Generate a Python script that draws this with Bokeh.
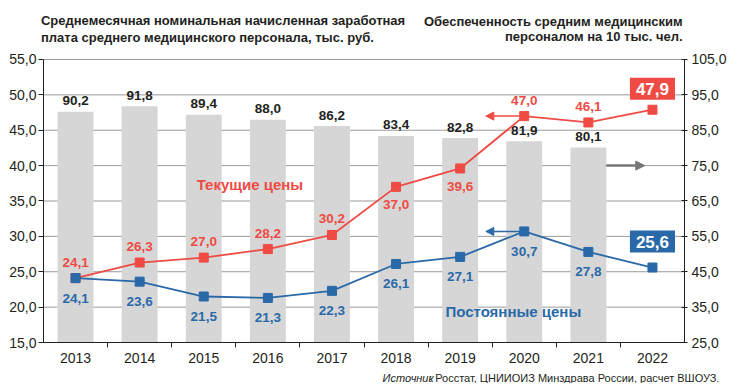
from bokeh.plotting import figure
from bokeh.models import Range1d, LinearAxis, FixedTicker, Label, Arrow, NormalHead
from bokeh.core.properties import value
from bokeh.embed import file_html
from bokeh.resources import INLINE

years = ["2013", "2014", "2015", "2016", "2017", "2018", "2019", "2020", "2021", "2022"]
staff = [90.2, 91.8, 89.4, 88.0, 86.2, 83.4, 82.8, 81.9, 80.1]          # 2013-2021, right axis
current = [24.1, 26.3, 27.0, 28.2, 30.2, 37.0, 39.6, 47.0, 46.1, 47.9]  # Текущие цены
constant = [24.1, 23.6, 21.5, 21.3, 22.3, 26.1, 27.1, 30.7, 27.8, 25.6]  # Постоянные цены
current_label_above = [True, True, True, True, True, False, False, True, True]
left_ticks = [15, 20, 25, 30, 35, 40, 45, 50, 55]
right_ticks = [25, 35, 45, 55, 65, 75, 85, 95, 105]
staff_arrow_level = 75

FONT = "Liberation Sans"
RED = "#ef4b44"
BLUE = "#2a69a8"
BAR = "#d6d6d6"
DARK = "#231f20"
GRID = "#9a9a9a"


def fmt(v):
    return f"{v:.1f}".replace(".", ",")


ncat = len(years)
xs = [i + 0.5 for i in range(ncat)]

# the frame spans the whole canvas; axes are pinned and bounded to the tick range
x_lo, x_hi = -0.6708, 10.733
y_lo, y_hi = 9.205, 63.339
ratio = (right_ticks[-1] - right_ticks[0]) / (left_ticks[-1] - left_ticks[0])
r_lo = right_ticks[0] + ratio * (y_lo - left_ticks[0])
r_hi = right_ticks[0] + ratio * (y_hi - left_ticks[0])

p = figure(width=731, height=383,
           x_range=Range1d(x_lo, x_hi), y_range=Range1d(y_lo, y_hi),
           output_backend="svg", toolbar_location=None,
           min_border_left=0, min_border_right=0, min_border_top=0, min_border_bottom=0)
p.title.visible = False
p.outline_line_color = None
p.background_fill_color = "white"
p.extra_y_ranges = {"staff": Range1d(r_lo, r_hi)}
p.xgrid.visible = False
p.ygrid.visible = False

# horizontal grid lines between the two axes
p.segment(x0=[0] * len(left_ticks), x1=[ncat] * len(left_ticks), y0=left_ticks, y1=left_ticks,
          line_color=GRID, line_width=1)

# left axis
ya = p.yaxis[0]
ya.fixed_location = 0
ya.ticker = FixedTicker(ticks=left_ticks)
ya.bounds = (left_ticks[0], left_ticks[-1])
ya.major_label_overrides = {t: fmt(t) for t in left_ticks}
ya.minor_tick_line_color = None
ya.major_tick_in = 0
ya.major_tick_out = 5
ya.major_label_standoff = 2
ya.axis_line_color = DARK
ya.major_tick_line_color = DARK
ya.major_label_text_font = FONT
ya.major_label_text_font_size = "14px"
ya.major_label_text_color = DARK

# right axis
ra = LinearAxis(y_range_name="staff", ticker=FixedTicker(ticks=right_ticks), fixed_location=ncat)
ra.bounds = (right_ticks[0], right_ticks[-1])
ra.major_label_overrides = {t: fmt(t) for t in right_ticks}
ra.minor_tick_line_color = None
ra.major_tick_in = 3
ra.major_tick_out = 3
ra.major_label_standoff = 4
ra.axis_line_color = DARK
ra.major_tick_line_color = DARK
ra.major_label_text_font = FONT
ra.major_label_text_font_size = "14px"
ra.major_label_text_color = DARK
p.add_layout(ra, "right")

# x axis, pinned at the bottom of the left scale
xa = p.xaxis[0]
xa.fixed_location = left_ticks[0]
xa.bounds = (0, ncat)
xa.ticker = FixedTicker(ticks=xs, minor_ticks=list(range(1, ncat)))
xa.major_label_overrides = {x: y for x, y in zip(xs, years)}
xa.major_tick_line_color = None
xa.major_tick_in = 0
xa.major_tick_out = 0
xa.minor_tick_in = 0
xa.minor_tick_out = 5
xa.minor_tick_line_color = DARK
xa.axis_line_color = DARK
xa.major_label_standoff = 5
xa.major_label_text_font = FONT
xa.major_label_text_font_size = "14px"
xa.major_label_text_color = DARK

# bars (right axis)
nb = len(staff)
p.vbar(x=xs[:nb], top=staff, bottom=right_ticks[0], width=0.56, y_range_name="staff",
       fill_color=BAR, line_color=None)
p.text(x=xs[:nb], y=staff, text=[fmt(v) for v in staff], y_range_name="staff",
       text_align="center", text_baseline="middle", y_offset=-11,
       text_font=value(FONT), text_font_style="bold", text_font_size="13.5px", text_color=DARK)

# lines
p.line(xs, current, line_color=RED, line_width=1.8)
p.scatter(xs, current, marker="square", size=9, fill_color=RED, line_color=RED)
p.line(xs, constant, line_color=BLUE, line_width=1.8)
p.scatter(xs, constant, marker="square", size=9, fill_color=BLUE, line_color=BLUE)

n = len(current_label_above)
above_x = [xs[i] for i in range(n) if current_label_above[i]]
above_y = [current[i] for i in range(n) if current_label_above[i]]
below_x = [xs[i] for i in range(n) if not current_label_above[i]]
below_y = [current[i] for i in range(n) if not current_label_above[i]]
p.text(x=above_x, y=above_y, text=[fmt(v) for v in above_y], text_align="center", text_baseline="middle",
       y_offset=-16, text_font=value(FONT), text_font_style="bold", text_font_size="13.5px", text_color=RED)
p.text(x=below_x, y=below_y, text=[fmt(v) for v in below_y], text_align="center", text_baseline="middle",
       y_offset=18, text_font=value(FONT), text_font_style="bold", text_font_size="13.5px", text_color=RED)
p.text(x=xs[:n], y=constant[:n], text=[fmt(v) for v in constant[:n]], text_align="center",
       text_baseline="middle", y_offset=20, text_font=value(FONT), text_font_style="bold",
       text_font_size="13.5px", text_color=BLUE)

# last-value boxes
last = ncat - 1
p.add_layout(Label(x=xs[last], y=current[last], y_offset=21, text=fmt(current[last]),
                   text_align="center", text_baseline="middle", text_font=FONT, text_font_style="bold",
                   text_font_size="17px", text_color="white", background_fill_color=RED, padding=(6, 5)))
p.add_layout(Label(x=xs[last], y=constant[last], y_offset=26, text=fmt(constant[last]),
                   text_align="center", text_baseline="middle", text_font=FONT, text_font_style="bold",
                   text_font_size="17px", text_color="white", background_fill_color=BLUE, padding=(6, 5)))

# arrows
i20 = years.index("2020")
i21 = years.index("2021")
p.add_layout(Arrow(end=NormalHead(size=8, fill_color=RED, line_color=RED),
                   x_start=xs[i20], y_start=current[i20], x_end=xs[i20] - 0.6, y_end=current[i20],
                   line_color=RED, line_width=1.5))
p.add_layout(Arrow(end=NormalHead(size=8, fill_color=BLUE, line_color=BLUE),
                   x_start=xs[i20], y_start=constant[i20], x_end=xs[i20] - 0.6, y_end=constant[i20],
                   line_color=BLUE, line_width=1.5))
p.add_layout(Arrow(end=NormalHead(size=9, fill_color="#777777", line_color="#777777"),
                   x_start=xs[i21] + 0.28, y_start=staff_arrow_level, x_end=xs[i21] + 0.88,
                   y_end=staff_arrow_level, y_range_name="staff", line_color="#777777", line_width=2.5))

# series names
p.add_layout(Label(x=2.39, y=37.3, text="Текущие цены", text_baseline="middle", text_font=FONT,
                   text_font_style="bold", text_font_size="15px", text_color=RED))
p.add_layout(Label(x=6.27, y=19.4, text="Постоянные цены", text_baseline="middle", text_font=FONT,
                   text_font_style="bold", text_font_size="15px", text_color=BLUE))

# titles
p.add_layout(Label(x=-0.04, y=60.5, text="Среднемесячная номинальная начисленная заработная",
                   text_baseline="middle", text_font=FONT, text_font_style="bold",
                   text_font_size="13px", text_color=DARK))
p.add_layout(Label(x=-0.04, y=58.1, text="плата среднего медицинского персонала, тыс. руб.",
                   text_baseline="middle", text_font=FONT, text_font_style="bold",
                   text_font_size="13px", text_color=DARK))
p.add_layout(Label(x=9.97, y=60.4, text="Обеспеченность средним медицинским",
                   text_align="right", text_baseline="middle", text_font=FONT, text_font_style="bold",
                   text_font_size="13px", text_color=DARK))
p.add_layout(Label(x=9.97, y=58.25, text="персоналом на 10 тыс. чел.",
                   text_align="right", text_baseline="middle", text_font=FONT, text_font_style="bold",
                   text_font_size="13px", text_color=DARK))

# source
p.add_layout(Label(x=5.29, y=10.05, text="Источник", text_baseline="middle", text_font=FONT,
                   text_font_style="italic", text_font_size="11px", text_color=DARK))
p.add_layout(Label(x=6.015, y=10.05, text=": Росстат, ЦНИИОИЗ Минздрава России, расчет ВШОУЗ.",
                   text_baseline="middle", text_font=FONT, text_font_size="11px", text_color=DARK))

open("out.html", "w").write(file_html(p, INLINE))
